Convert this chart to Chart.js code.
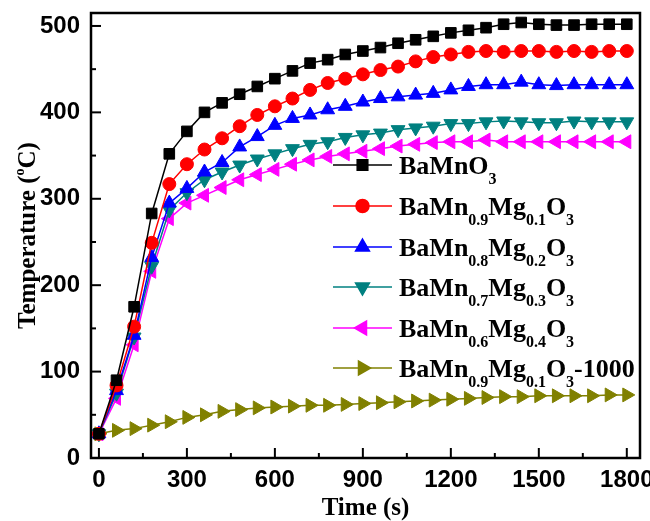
<!DOCTYPE html>
<html>
<head>
<meta charset="utf-8">
<script src="https://cdn.jsdelivr.net/npm/chart.js@4.4.1/dist/chart.umd.min.js"></script>
<style>
  html, body { margin: 0; padding: 0; background: #fff; }
  #wrap { width: 650px; height: 521px; }
</style>
</head>
<body>
<div id="wrap"><canvas id="chart"></canvas></div>
<script>
// time axis (s)
const times = [0, 60, 120, 180, 240, 300, 360, 420, 480, 540, 600, 660, 720, 780, 840, 900,
  960, 1020, 1080, 1140, 1200, 1260, 1320, 1380, 1440, 1500, 1560, 1620, 1680, 1740, 1800];

// temperatures (°C)
const bamno3   = [28, 90, 175, 283, 352, 378, 400, 411, 421, 430, 439, 448, 457, 461, 467, 471,
  475, 480, 484, 488, 492, 495, 498, 502, 504, 502, 501, 501, 502, 502, 502];
const mg01     = [28, 84, 152, 249, 317, 340, 357, 370, 384, 397, 407, 416, 426, 434, 439, 444,
  449, 453, 459, 464, 467, 470, 471, 470, 471, 471, 470, 471, 470, 471, 471];
const mg02     = [28, 78, 142, 232, 295, 312, 331, 342, 360, 372, 385, 393, 397, 403, 407, 412,
  416, 418, 420, 422, 426, 430, 432, 432, 435, 432, 431, 432, 432, 432, 432];
const mg03     = [28, 75, 140, 222, 287, 307, 322, 331, 339, 346, 352, 358, 363, 366, 371, 374,
  376, 380, 382, 384, 387, 387, 389, 390, 389, 388, 388, 390, 389, 389, 389];
const mg04     = [28, 69, 131, 216, 277, 295, 304, 313, 322, 328, 334, 340, 345, 349, 352, 355,
  358, 361, 363, 365, 366, 366, 368, 366, 366, 366, 366, 366, 366, 366, 366];
const mg01_1000 = [28, 32, 34, 38, 42, 47, 50, 54, 56, 58, 59, 60, 61, 61, 62, 63,
  64, 65, 66, 67, 68, 69, 70, 71, 71, 72, 72, 72, 72, 73, 73];

// legend labels, {..} marks a subscript
const seriesLabels = ['BaMnO{3}', 'BaMn{0.9}Mg{0.1}O{3}', 'BaMn{0.8}Mg{0.2}O{3}',
  'BaMn{0.7}Mg{0.3}O{3}', 'BaMn{0.6}Mg{0.4}O{3}', 'BaMn{0.9}Mg{0.1}O{3}-1000'];
const xTicks = [0, 300, 600, 900, 1200, 1500, 1800];
const yTicks = [0, 100, 200, 300, 400, 500];

const allSeries = [bamno3, mg01, mg02, mg03, mg04, mg01_1000];
const colors = ['#000000', '#ff0000', '#0000ff', '#008080', '#ff00ff', '#808000'];
const markers = [
  { style: 'rect', rot: 0, r: 7.5 },
  { style: 'circle', rot: 0, r: 6.5 },
  { style: 'triangle', rot: 0, r: 8 },
  { style: 'triangle', rot: 180, r: 8 },
  { style: 'triangle', rot: 270, r: 8 },
  { style: 'triangle', rot: 90, r: 8 }
];

const datasets = allSeries.map((vals, i) => ({
  label: seriesLabels[i],
  data: times.map((t, j) => ({ x: t, y: vals[j] })),
  borderColor: colors[i],
  backgroundColor: colors[i],
  borderWidth: 1.5,
  pointStyle: markers[i].style,
  pointRotation: markers[i].rot,
  pointRadius: markers[i].r,
  pointBorderWidth: 1,
  tension: 0
}));

function drawRich(ctx, str, x, y, big, small) {
  // draws text with {subscript} parts
  const parts = str.split(/(\{[^}]*\})/).filter(p => p.length);
  parts.forEach(p => {
    if (p[0] === '{') {
      const s = p.slice(1, -1);
      ctx.font = 'bold ' + small + 'px "Liberation Serif", "Times New Roman", serif';
      ctx.fillText(s, x, y + 10);
      x += ctx.measureText(s).width;
    } else {
      ctx.font = 'bold ' + big + 'px "Liberation Serif", "Times New Roman", serif';
      ctx.fillText(p, x, y);
      x += ctx.measureText(p).width;
    }
  });
  return x;
}

const decor = {
  id: 'decor',
  afterDatasetsDraw(chart) {
    const { ctx, chartArea: a, scales: { x, y } } = chart;
    ctx.save();
    ctx.strokeStyle = '#000';
    ctx.fillStyle = '#000';

    // frame
    ctx.lineWidth = 2.5;
    ctx.strokeRect(a.left, a.top, a.right - a.left, a.bottom - a.top);

    // inward ticks
    ctx.lineWidth = 2;
    xTicks.forEach((v, i) => {
      const px = x.getPixelForValue(v);
      ctx.beginPath(); ctx.moveTo(px, a.bottom); ctx.lineTo(px, a.bottom - 10); ctx.stroke();
      if (i < xTicks.length - 1) {
        const mx = x.getPixelForValue((v + xTicks[i + 1]) / 2);
        ctx.beginPath(); ctx.moveTo(mx, a.bottom); ctx.lineTo(mx, a.bottom - 5); ctx.stroke();
      }
    });
    yTicks.forEach((v, i) => {
      const py = y.getPixelForValue(v);
      ctx.beginPath(); ctx.moveTo(a.left, py); ctx.lineTo(a.left + 10, py); ctx.stroke();
      if (i < yTicks.length - 1) {
        const my = y.getPixelForValue((v + yTicks[i + 1]) / 2);
        ctx.beginPath(); ctx.moveTo(a.left, my); ctx.lineTo(a.left + 5, my); ctx.stroke();
      }
    });

    // y axis title with superscript o
    ctx.save();
    ctx.translate(26, (a.top + a.bottom) / 2);
    ctx.rotate(-Math.PI / 2);
    ctx.textBaseline = 'alphabetic';
    const big = 'bold 25px "Liberation Serif", "Times New Roman", serif';
    const sup = 'bold 14px "Liberation Serif", "Times New Roman", serif';
    ctx.font = big;
    const w1 = ctx.measureText('Temperature (').width;
    const w3 = ctx.measureText('C)').width;
    ctx.font = sup;
    const w2 = ctx.measureText('o').width;
    let sx = -(w1 + w2 + w3) / 2;
    ctx.font = big; ctx.fillText('Temperature (', sx, 9); sx += w1;
    ctx.font = sup; ctx.fillText('o', sx, -2); sx += w2;
    ctx.font = big; ctx.fillText('C)', sx, 9);
    ctx.restore();

    // legend
    const x0 = 333, x1 = 392, tx = 399;
    const rowY = [165, 206, 247, 287, 328, 368];
    ctx.textBaseline = 'alphabetic';
    ctx.textAlign = 'left';
    seriesLabels.forEach((lab, i) => {
      const ly = rowY[i];
      ctx.strokeStyle = colors[i];
      ctx.fillStyle = colors[i];
      ctx.lineWidth = 1.5;
      ctx.beginPath(); ctx.moveTo(x0, ly); ctx.lineTo(x1, ly); ctx.stroke();
      Chart.helpers.drawPoint(ctx, {
        pointStyle: markers[i].style, rotation: markers[i].rot,
        radius: markers[i].r, borderWidth: 1
      }, (x0 + x1) / 2, ly);
      ctx.fillStyle = '#000';
      drawRich(ctx, lab, tx, ly + 9, 26, 16);
    });
    ctx.restore();
  }
};

const tickFont = { family: '"Liberation Sans Narrow", "Liberation Sans", Arial', weight: 'bold', size: 24 };

new Chart(document.getElementById('chart'), {
  type: 'line',
  data: { datasets },
  options: {
    responsive: true,
    maintainAspectRatio: false,
    animation: false,
    layout: { padding: { left: 0, right: 10, top: 13, bottom: 0 } },
    plugins: { legend: { display: false }, tooltip: { enabled: false } },
    scales: {
      x: {
        type: 'linear',
        min: -27,
        max: 1845,
        afterBuildTicks: s => { s.ticks = xTicks.map(v => ({ value: v })); },
        afterFit: s => { s.height = 63; s.paddingLeft = 0; s.paddingRight = 0; },
        grid: { display: false, drawTicks: false },
        border: { display: false },
        ticks: { color: '#000', padding: 8, maxRotation: 0, font: tickFont, callback: v => String(v) },
        title: {
          display: true, text: 'Time (s)', color: '#000',
          padding: { top: 0, bottom: 0 },
          font: { family: '"Liberation Serif", "Times New Roman", serif', weight: 'bold', size: 25, lineHeight: 1 }
        }
      },
      y: {
        type: 'linear',
        min: 0,
        max: 515,
        afterBuildTicks: s => { s.ticks = yTicks.map(v => ({ value: v })); },
        afterFit: s => { s.width = 91; s.paddingTop = 0; s.paddingBottom = 0; },
        grid: { display: false, drawTicks: false },
        border: { display: false },
        ticks: { color: '#000', padding: 11, font: tickFont, callback: v => String(v) }
      }
    }
  },
  plugins: [decor]
});
</script>
</body>
</html>
